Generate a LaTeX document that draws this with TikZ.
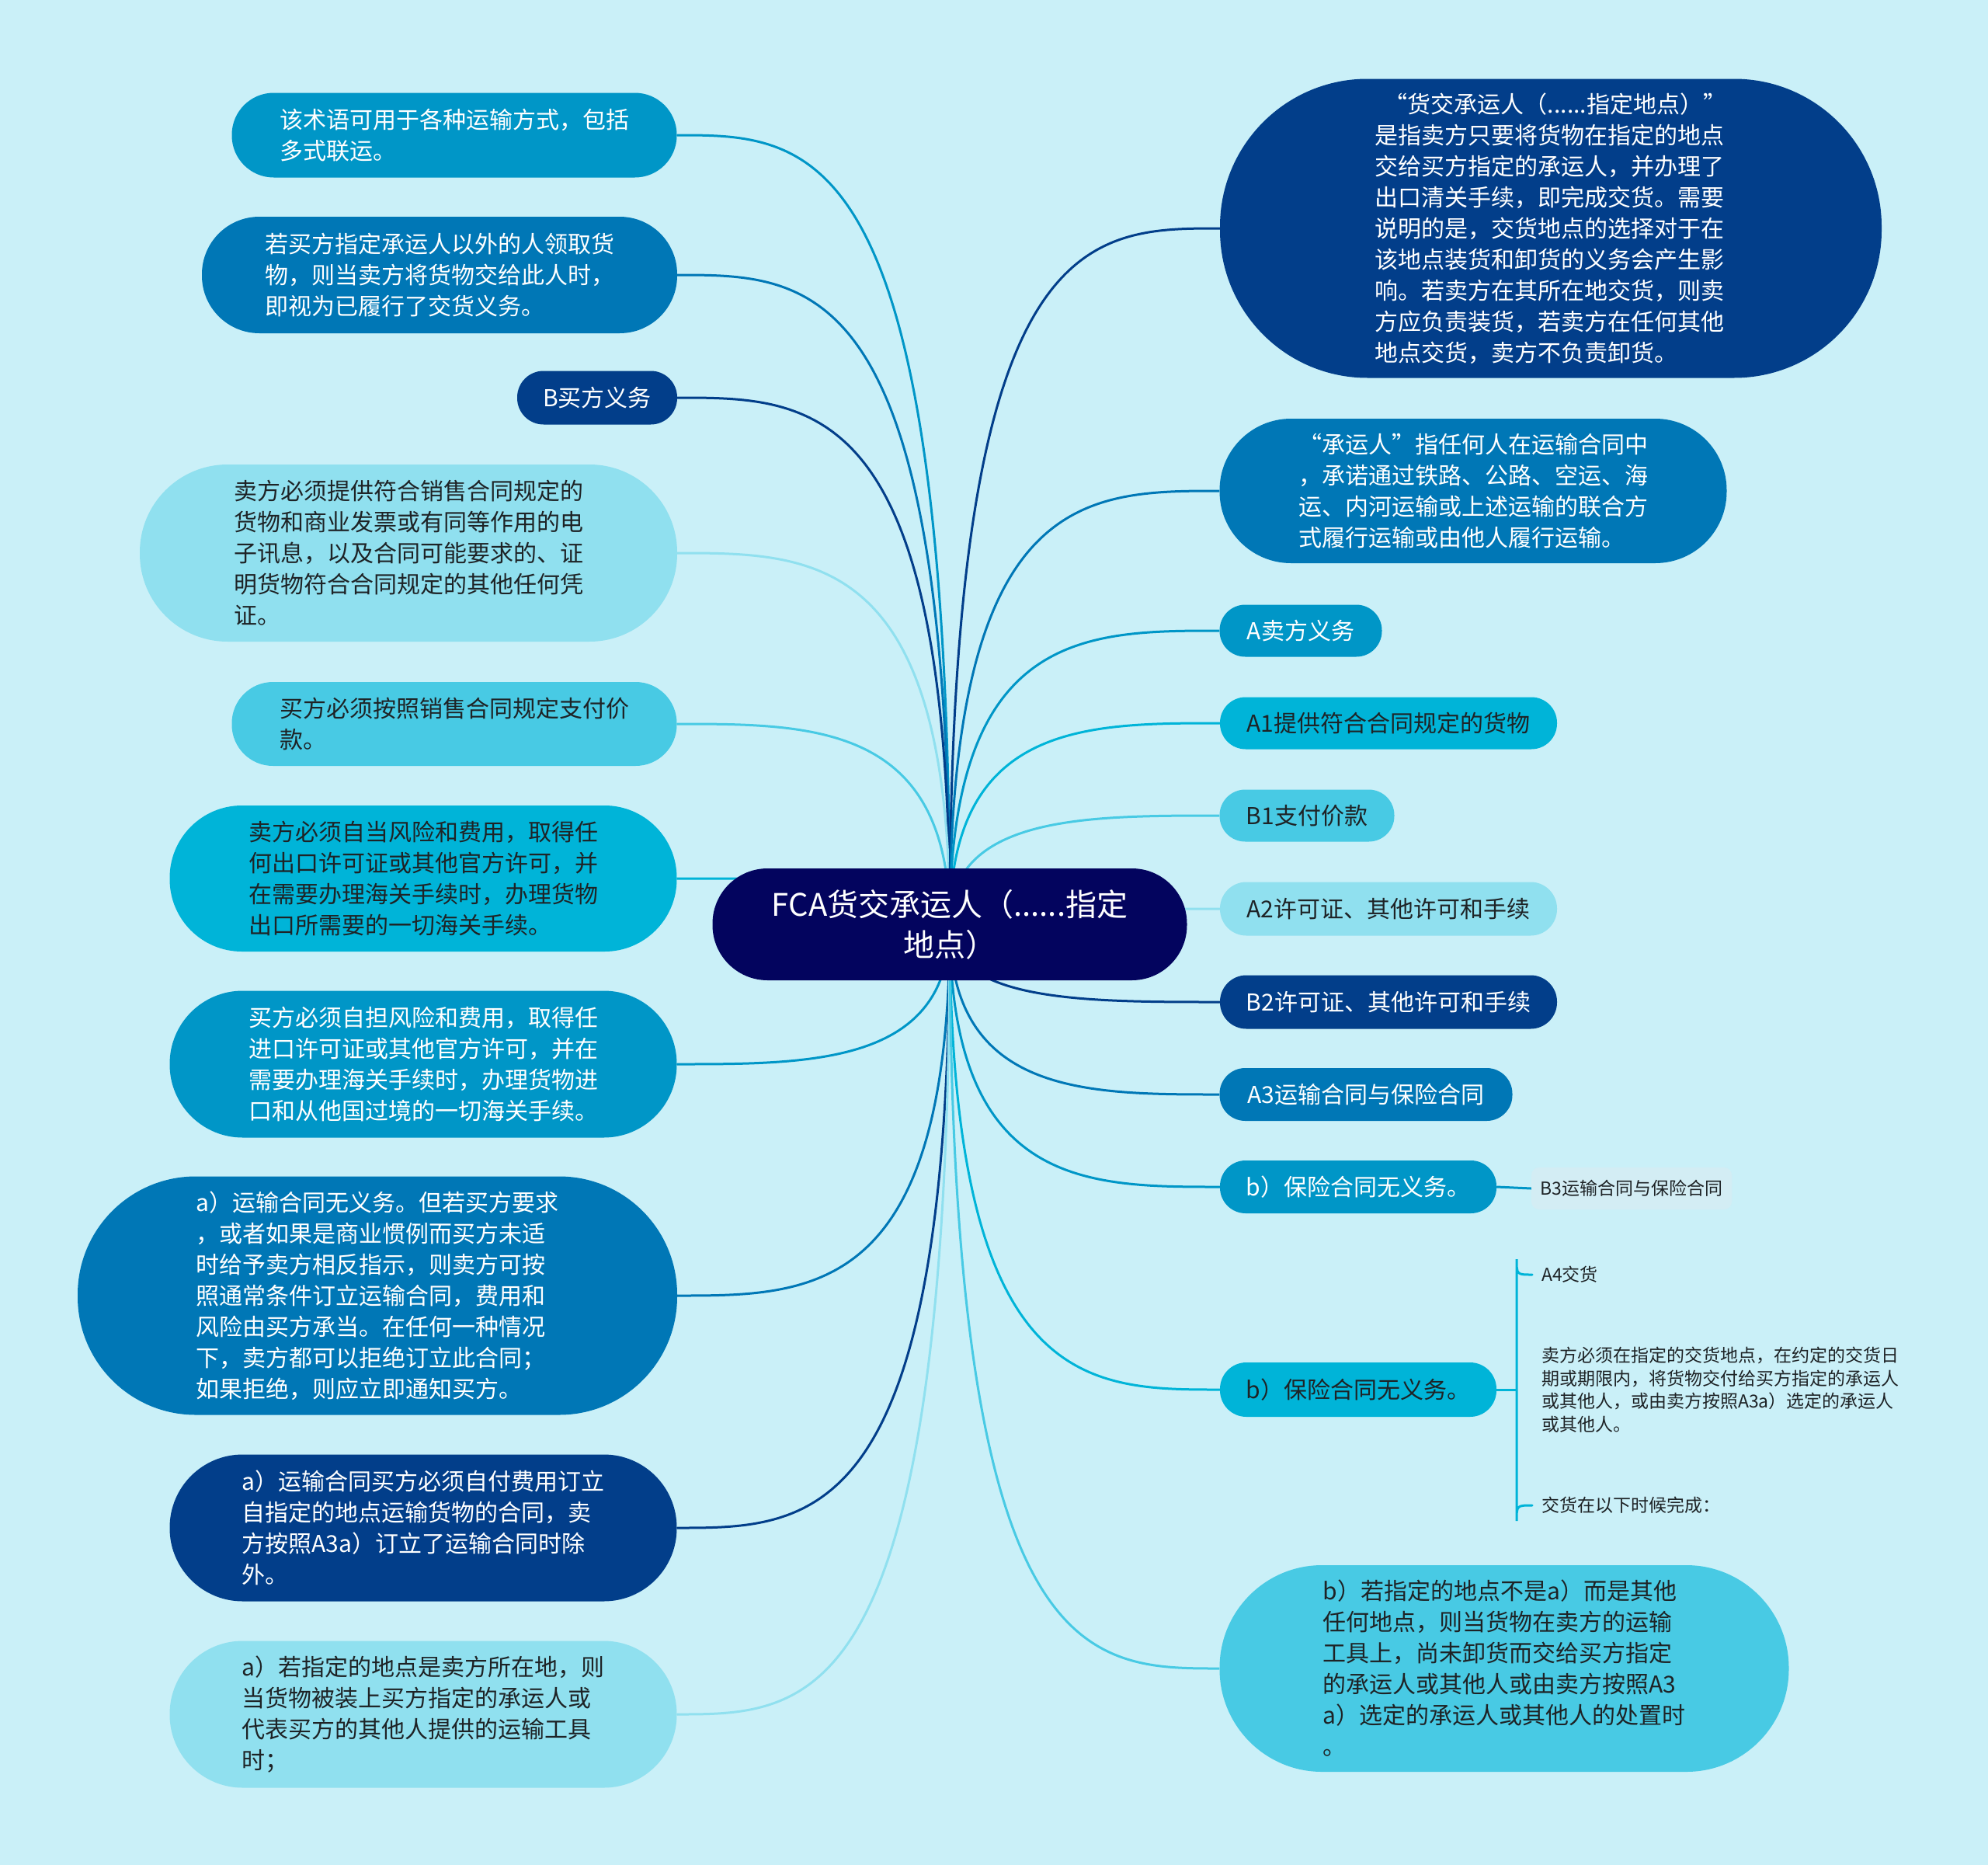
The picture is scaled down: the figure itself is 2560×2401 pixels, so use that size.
\documentclass[tikz,border=0pt]{standalone}
\usepackage{fontspec}
\setmainfont{Noto Sans CJK SC}
\usetikzlibrary{calc}
\definecolor{bg}{HTML}{CAF0F8}
\definecolor{c0}{HTML}{03045E}
\definecolor{c1}{HTML}{023E8A}
\definecolor{c2}{HTML}{0077B6}
\definecolor{c3}{HTML}{0096C7}
\definecolor{c4}{HTML}{00B4D8}
\definecolor{c5}{HTML}{48CAE4}
\definecolor{c6}{HTML}{90E0EF}
\definecolor{dk}{HTML}{1E2326}
\definecolor{b3c}{HTML}{D3EDF4}
\pgfdeclarelayer{bgl}
\pgfdeclarelayer{lines}
\pgfsetlayers{bgl,lines,main}
\begin{document}
\begin{tikzpicture}[x=1pt,y=-1pt,
  pill/.style={inner sep=0pt, align=left, font=\fontsize{30}{40}\selectfont},
  lt/.style={text=white},
  dt/.style={text=dk},
  link/.style={line width=3pt},
  small/.style={inner sep=0pt, align=left, anchor=west, text=dk, font=\fontsize{23}{29.5}\selectfont},
]
\begin{pgfonlayer}{bgl}
\fill[bg] (0,0) rectangle (2560,2401);
\end{pgfonlayer}
\useasboundingbox (0,0) rectangle (2560,2401);

% central
\node[inner sep=0pt, align=center, fill=c0, text=white, font=\fontsize{40}{52}\selectfont,
  minimum width=611pt, minimum height=144pt, rounded corners=71pt] (C) at (1223,1190)
  {FCA货交承运人（......指定\\地点）};

% left nodes
\node[pill, fill=c3, lt, minimum width=573pt, minimum height=109pt, rounded corners=54pt] (L1) at (585,174)
  {该术语可用于各种运输方式，包括\\多式联运。};
\node[pill, fill=c2, lt, minimum width=612pt, minimum height=150pt, rounded corners=74pt] (L2) at (566,354)
  {若买方指定承运人以外的人领取货\\物，则当卖方将货物交给此人时，\\即视为已履行了交货义务。};
\node[pill, fill=c1, lt, minimum width=206pt, minimum height=69pt, rounded corners=34pt] (L3) at (769,512)
  {B买方义务};
\node[pill, fill=c6, dt, minimum width=692pt, minimum height=228pt, rounded corners=113pt] (L4) at (526,712)
  {卖方必须提供符合销售合同规定的\\货物和商业发票或有同等作用的电\\子讯息，以及合同可能要求的、证\\明货物符合合同规定的其他任何凭\\证。};
\node[pill, fill=c5, dt, minimum width=573pt, minimum height=108pt, rounded corners=53pt] (L5) at (585,932)
  {买方必须按照销售合同规定支付价\\款。};
\node[pill, fill=c4, dt, minimum width=653pt, minimum height=188pt, rounded corners=93pt] (L6) at (545,1131)
  {卖方必须自当风险和费用，取得任\\何出口许可证或其他官方许可，并\\在需要办理海关手续时，办理货物\\出口所需要的一切海关手续。};
\node[pill, fill=c3, lt, minimum width=653pt, minimum height=189pt, rounded corners=94pt] (L7) at (545,1370)
  {买方必须自担风险和费用，取得任\\进口许可证或其他官方许可，并在\\需要办理海关手续时，办理货物进\\口和从他国过境的一切海关手续。};
\node[pill, fill=c2, lt, minimum width=772pt, minimum height=307pt, rounded corners=152pt] (L8) at (486,1668)
  {a）运输合同无义务。但若买方要求\\，或者如果是商业惯例而买方未适\\时给予卖方相反指示，则卖方可按\\照通常条件订立运输合同，费用和\\风险由买方承当。在任何一种情况\\下，卖方都可以拒绝订立此合同；\\如果拒绝，则应立即通知买方。};
\node[pill, fill=c1, lt, minimum width=653pt, minimum height=189pt, rounded corners=94pt] (L9) at (545,1967)
  {a）运输合同买方必须自付费用订立\\自指定的地点运输货物的合同，卖\\方按照A3a）订立了运输合同时除\\外。};
\node[pill, fill=c6, dt, minimum width=653pt, minimum height=189pt, rounded corners=94pt] (L10) at (545,2207)
  {a）若指定的地点是卖方所在地，则\\当货物被装上买方指定的承运人或\\代表买方的其他人提供的运输工具\\时；};

% right nodes
\node[pill, fill=c1, lt, minimum width=852pt, minimum height=385pt, rounded corners=190pt] (R1) at (1997,294)
  {\hspace*{12pt}“货交承运人（......指定地点）”\\是指卖方只要将货物在指定的地点\\交给买方指定的承运人，并办理了\\出口清关手续，即完成交货。需要\\说明的是，交货地点的选择对于在\\该地点装货和卸货的义务会产生影\\响。若卖方在其所在地交货，则卖\\方应负责装货，若卖方在任何其他\\地点交货，卖方不负责卸货。};
\node[pill, fill=c2, lt, minimum width=653pt, minimum height=186pt, rounded corners=92pt] (R2) at (1897,632)
  {“承运人”指任何人在运输合同中\\，承诺通过铁路、公路、空运、海\\运、内河运输或上述运输的联合方\\式履行运输或由他人履行运输。};
\node[pill, fill=c3, lt, minimum width=209pt, minimum height=67pt, rounded corners=33pt] (R3) at (1675,812)
  {A卖方义务};
\node[pill, fill=c4, dt, minimum width=434pt, minimum height=67pt, rounded corners=33pt] (R4) at (1788,931)
  {A1提供符合合同规定的货物};
\node[pill, fill=c5, dt, minimum width=225pt, minimum height=67pt, rounded corners=33pt] (R5) at (1683,1050)
  {B1支付价款};
\node[pill, fill=c6, dt, minimum width=434pt, minimum height=69pt, rounded corners=34pt] (R6) at (1788,1170)
  {A2许可证、其他许可和手续};
\node[pill, fill=c1, lt, minimum width=434pt, minimum height=69pt, rounded corners=34pt] (R7) at (1788,1290)
  {B2许可证、其他许可和手续};
\node[pill, fill=c2, lt, minimum width=377pt, minimum height=68pt, rounded corners=33pt] (R8) at (1759,1409)
  {A3运输合同与保险合同};
\node[pill, fill=c3, lt, minimum width=356pt, minimum height=68pt, rounded corners=33pt] (R9) at (1749,1528)
  {b）保险合同无义务。};
\node[pill, fill=c4, dt, minimum width=356pt, minimum height=70pt, rounded corners=34pt] (R10) at (1749,1789)
  {b）保险合同无义务。};
\node[pill, fill=c5, dt, minimum width=733pt, minimum height=266pt, rounded corners=132pt] (R11) at (1937,2148)
  {b）若指定的地点不是a）而是其他\\任何地点，则当货物在卖方的运输\\工具上，尚未卸货而交给买方指定\\的承运人或其他人或由卖方按照A3\\a）选定的承运人或其他人的处置时\\。};

% B3 child
\node[inner sep=0pt, fill=b3c, text=dk, font=\fontsize{23}{29.5}\selectfont,
  minimum width=258pt, minimum height=54pt, rounded corners=10pt] (B3) at (2101,1530)
  {B3运输合同与保险合同};

% A4 children
\node[small] (A4) at (1985,1641) {A4交货};
\node[small] (A4p) at (1985,1789) {卖方必须在指定的交货地点，在约定的交货日\\期或期限内，将货物交付给买方指定的承运人\\或其他人，或由卖方按照A3a）选定的承运人\\或其他人。};
\node[small] (A4d) at (1985,1938) {交货在以下时候完成：};
\coordinate (brk) at (1953,1789);

\begin{pgfonlayer}{lines}
\foreach \n/\c in {L1/c3, L2/c2, L3/c1, L4/c6, L5/c5, L6/c4, L7/c3, L8/c2, L9/c1, L10/c6}
  \draw[link, \c] (C.center) .. controls (C.center |- \n.east) and ($(C.center |- \n.east)!0.5!(\n.east)$) .. (\n.east);
\foreach \n/\c in {R1/c1, R2/c2, R3/c3, R4/c4, R5/c5, R6/c6, R7/c1, R8/c2, R9/c3, R10/c4, R11/c5}
  \draw[link, \c] (C.center) .. controls (C.center |- \n.west) and ($(C.center |- \n.west)!0.5!(\n.west)$) .. (\n.west);
\draw[link, c3] (R9.east) -- (B3.west);
\draw[link, c4] (R10.east) -- (brk);
\draw[link, c4, line cap=round] ([xshift=-12pt]A4.west) .. controls (brk |- A4.west) .. ([yshift=20pt]brk |- A4.west)
  -- ([yshift=-20pt]brk |- A4d.west) .. controls (brk |- A4d.west) .. ([xshift=-12pt]A4d.west);
\end{pgfonlayer}
\end{tikzpicture}
\end{document}
